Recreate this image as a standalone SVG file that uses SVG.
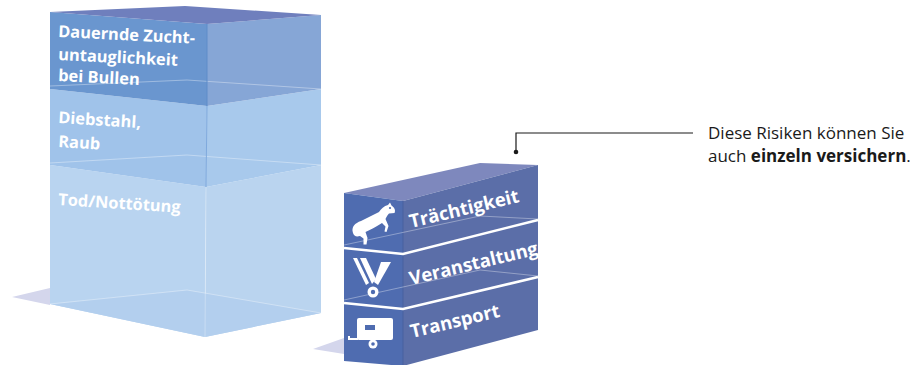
<svg xmlns="http://www.w3.org/2000/svg" width="915" height="365" viewBox="0 0 915 365">
<style>
.lbl{font-family:"Open Sans","Liberation Sans",sans-serif;font-weight:700;fill:#ffffff;}
.lt{font-size:16.4px;}
.rt{font-size:18.5px;}
.faint{fill:none;stroke:#ffffff;stroke-opacity:0.35;stroke-width:1;}
.sep{stroke:#ffffff;stroke-width:2.5;fill:none;}
.ico{fill:#ffffff;}
.note{font-family:"Open Sans","Liberation Sans",sans-serif;font-size:17px;fill:#1a1a1a;}
</style>
<rect width="915" height="365" fill="#ffffff"/>

<g id="stack-left">
  <polygon points="12,297 50,288 50,305" fill="#d4d6ec"/>
  <g id="node-tod">
    <polygon points="50,165 206,187 205,337 50,304" fill="#b9d4f0"/>
    <polygon points="206,187 321,165 321,313 205,337" fill="#bad4ef"/>
    <polygon points="50,304 187,290 321,313 205,337" fill="#b3cfee"/>
    <polyline class="faint" points="50,304 187,290 321,313"/>
    <line x1="206" y1="187" x2="205" y2="337" stroke="#ffffff" stroke-opacity="0.3"/>
    <text class="lbl lt" transform="translate(58,205) rotate(3.6)">Tod/Nottötung</text>
  </g>
  <g id="node-diebstahl">
    <polygon points="50,89 207,106 206,187 50,165" fill="#a0c3ea"/>
    <polygon points="207,106 321,89 321,165 206,187" fill="#a8c9ec"/>
    <polyline class="faint" points="50,163 187,155 321,165"/>
    <line x1="207" y1="106" x2="206" y2="187" stroke="#7fa9dd" stroke-width="1"/>
    <text class="lbl lt" transform="translate(58,123) rotate(3.5)">Diebstahl,</text>
    <text class="lbl lt" transform="translate(58,147) rotate(3.5)">Raub</text>
  </g>
  <g id="node-zucht">
    <polygon points="50,12 207,24 207,106 50,89" fill="#6a96cf"/>
    <polygon points="207,24 321,15 321,89 207,106" fill="#86a6d6"/>
    <polygon points="50,12 185,6 321,15 207,24" fill="#6f7fbd"/>
    <polyline class="faint" points="50,86 187,80 321,89"/>
    <line x1="207" y1="24" x2="207" y2="106" stroke="#5f8cc8" stroke-width="1"/>
    <text class="lbl lt" transform="translate(58,37) rotate(2.8)">Dauernde Zucht-</text>
    <text class="lbl lt" transform="translate(58,60) rotate(2.8)">untauglichkeit</text>
    <text class="lbl lt" transform="translate(58,81) rotate(2.8)">bei Bullen</text>
  </g>
</g>

<g id="stack-right">
  <polygon points="313,349 344,338 344,354" fill="#d4d6ec"/>
  <polygon points="344,193 480,163 538,165 403,201" fill="#7e88bd"/>
  <polygon points="344,193 403,201 403,366 344,361" fill="#4f6cb0"/>
  <polygon points="403,201 538,165 538,330 403,366" fill="#5b6ea8"/>
  <line x1="403" y1="201" x2="403" y2="366" stroke="#48619f" stroke-width="1"/>
  <polyline class="faint" points="344,245 480,216 538,219"/>
  <polyline class="faint" points="344,300 480,270 538,276"/>
  <polyline class="sep" points="344,248 403,254 538,220"/>
  <polyline class="sep" points="344,303 403,309 538,277"/>

  <g id="node-traechtigkeit">
    <path class="ico" d="M353,233 C351,227 355,223 361,221 L379,212 C381,209 384,206 388,205 L390,202.5 L391.5,205.5 C394,207 396,210 394.5,213 L389,213.5 C387.5,215 386.5,217 385.5,219 L388.5,226 L386.5,232 L384.5,231.5 L385.5,226.5 L382,223 C376,227 370,230 365.5,232 L367.5,238 L366.5,244.5 L363.5,244.5 L363.5,238.5 L360,236 C356,237 354,236 353,233 Z"/>
    <circle cx="390" cy="208" r="1.1" fill="#4f6cb0"/>
    <text class="lbl rt" transform="translate(411,228) rotate(-13.5)">Trächtigkeit</text>
  </g>
  <g id="node-veranstaltung">
    <polygon class="ico" points="353,258 357,258 369,283 366,285"/>
    <polygon class="ico" points="360,258 366,258 376,279 372,284"/>
    <polygon class="ico" points="381,262 391,262 378,285 374,282"/>
    <circle cx="373" cy="292" r="5.5" fill="#ffffff"/>
    <circle cx="373" cy="292" r="2.2" fill="#4f6cb0"/>
    <text class="lbl rt" transform="translate(411,285) rotate(-13.5)">Veranstaltung</text>
  </g>
  <g id="node-transport">
    <rect class="ico" x="357" y="318" width="36" height="22" rx="2"/>
    <rect x="365" y="325" width="10" height="5" fill="#4f6cb0"/>
    <path d="M349,336 V339 H358" fill="none" stroke="#ffffff" stroke-width="2"/>
    <circle cx="373" cy="344" r="4.5" fill="#ffffff"/>
    <circle cx="373" cy="344" r="1.8" fill="#4f6cb0"/>
    <text class="lbl rt" transform="translate(412,338) rotate(-13.5)">Transport</text>
  </g>
</g>

<g id="connectors">
  <path d="M693,133 H516 V152" fill="none" stroke="#1a1a1a" stroke-width="1.2"/>
  <circle cx="516" cy="152" r="2.3" fill="#1a1a1a"/>
</g>

<g id="note">
  <text class="note" x="708" y="139">Diese Risiken können Sie</text>
  <text class="note" x="708" y="162">auch <tspan font-weight="700">einzeln versichern</tspan>.</text>
</g>
</svg>
